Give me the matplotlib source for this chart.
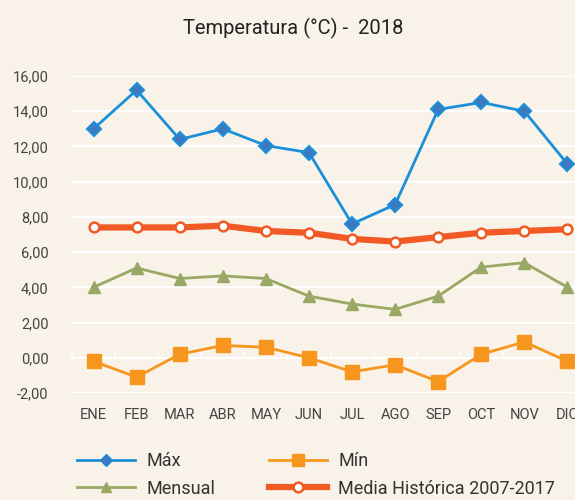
import matplotlib
matplotlib.use("Agg")
import matplotlib.pyplot as plt
from matplotlib.lines import Line2D

months = ["ENE", "FEB", "MAR", "ABR", "MAY", "JUN", "JUL", "AGO", "SEP", "OCT", "NOV", "DIC"]
tmax = [13.0, 15.2, 12.4, 13.0, 12.05, 11.65, 7.6, 8.7, 14.1, 14.5, 14.0, 11.0]
tmin = [-0.2, -1.1, 0.2, 0.7, 0.6, 0.0, -0.8, -0.4, -1.35, 0.2, 0.9, -0.2]
tmens = [4.0, 5.1, 4.5, 4.65, 4.5, 3.5, 3.05, 2.75, 3.5, 5.15, 5.4, 4.0]
tmedia = [7.4, 7.4, 7.4, 7.5, 7.2, 7.1, 6.75, 6.6, 6.85, 7.1, 7.2, 7.3]
yticks = [-2, 0, 2, 4, 6, 8, 10, 12, 14, 16]
title = "Temperatura (°C) -  2018"

bg = "#F8F2E8"
plt.rcParams['font.family'] = ['Roboto', 'DejaVu Sans']

fig = plt.figure(figsize=(5.75, 5.0), dpi=100, facecolor=bg)
ax = fig.add_axes([72/575, 1-393/500, 517/575, 317/500])
ax.set_facecolor(bg)

x = list(range(len(months)))
c_max = "#1B8FD8"
c_min = "#F7961E"
c_mens = "#9AA865"
c_med = "#F15A24"

ax.plot(x, tmedia, color=c_med, lw=4.5, marker='o', ms=7, mfc='white', mec=c_med, mew=1.8, zorder=3)
ax.plot(x, tmax, color=c_max, lw=2, marker='D', ms=7, mfc="#3D78C0", mec=c_max, mew=1.5, zorder=4)
ax.plot(x, tmens, color=c_mens, lw=2, marker='^', ms=9, mfc=c_mens, mec=c_mens, zorder=4)
ax.plot(x, tmin, color=c_min, lw=2, marker='s', ms=10, mfc=c_min, mec=c_min, zorder=4)

ax.set_xlim(-0.5, 11.5)
ax.set_ylim(-2, 16)
ax.set_yticks(yticks)
ax.set_yticklabels([f"{v:.2f}".replace('.', ',') for v in yticks])
ax.set_xticks(x)
ax.set_xticklabels(months)
ax.grid(axis='y', color='white', lw=1.5, zorder=0)
ax.set_axisbelow(True)
for s in ax.spines.values():
    s.set_visible(False)
ax.tick_params(axis='y', length=0, pad=17, labelsize=10.5, labelcolor="#444444")
ax.tick_params(axis='x', length=0, pad=11, labelsize=10.5, labelcolor="#444444")
# category boundary ticks on zero line
for b in range(13):
    ax.plot([b-0.5, b-0.5], [0, 0.25], color='white', lw=1.2, zorder=1, clip_on=False)

fig.text(0.51, 0.943, title, ha='center', va='center', fontsize=14.5, color="#222222")

handles = [
    Line2D([], [], color=c_max, lw=2, marker='D', ms=6, mfc="#3D78C0", mec=c_max),
    Line2D([], [], color=c_mens, lw=2, marker='^', ms=7, mfc=c_mens, mec=c_mens),
    Line2D([], [], color=c_min, lw=2, marker='s', ms=8, mfc=c_min, mec=c_min),
    Line2D([], [], color=c_med, lw=4.5, marker='o', ms=7, mfc='white', mec=c_med, mew=1.8),
]
labels = ["Máx", "Mensual", "Mín", "Media Histórica 2007-2017"]
fig.legend(handles, labels, ncol=2, loc='lower left', bbox_to_anchor=(61/575, -0.028),
           frameon=False, fontsize=13, handlelength=3.2, handletextpad=0.65,
           columnspacing=2.95, labelspacing=0.55, labelcolor="#333333")

fig.savefig("out.png", dpi=100, facecolor=bg)
